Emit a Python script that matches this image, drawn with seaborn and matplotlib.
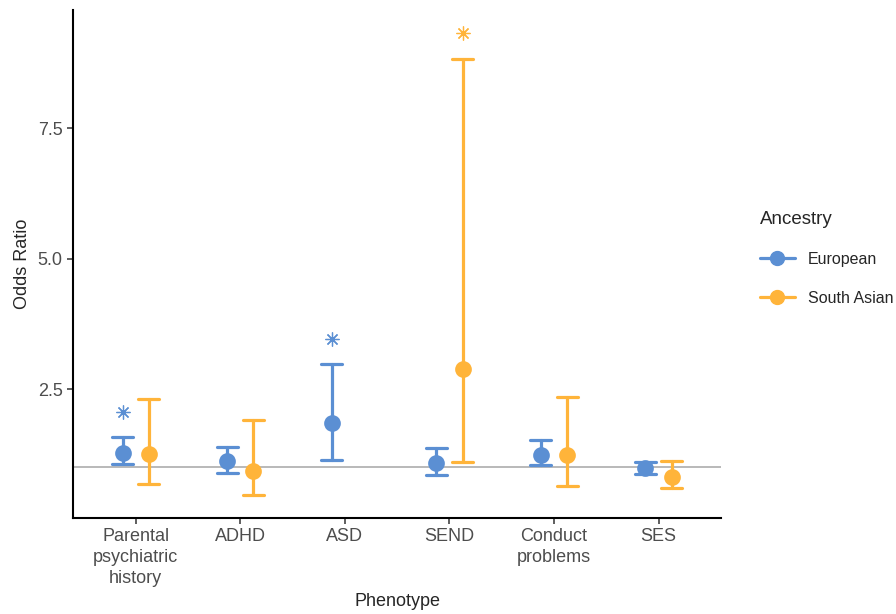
import numpy as np
import pandas as pd
import matplotlib
matplotlib.use('Agg')
from matplotlib import pyplot as plt
from matplotlib.lines import Line2D
import seaborn as sns

phenotypes = ['Parental\npsychiatric\nhistory', 'ADHD', 'ASD', 'SEND', 'Conduct\nproblems', 'SES']
ancestries = ['European', 'South Asian']

# odds ratio and 95% CI per phenotype (None = not estimated)
eur_or = [1.28, 1.12, 1.85, 1.08, 1.23, 0.98]
eur_lo = [1.06, 0.90, 1.15, 0.85, 1.04, 0.88]
eur_hi = [1.58, 1.40, 2.98, 1.37, 1.52, 1.10]
sa_or = [1.26, 0.94, None, 2.88, 1.23, 0.81]
sa_lo = [0.69, 0.48, None, 1.10, 0.65, 0.60]
sa_hi = [2.32, 1.90, None, 8.83, 2.35, 1.13]

# significance markers
star_pheno = ['Parental\npsychiatric\nhistory', 'ASD', 'SEND']
star_anc = ['European', 'European', 'South Asian']
star_y = [2.07, 3.46, 9.33]

palette = {'European': '#5B8FD3', 'South Asian': '#FFB43A'}

rows = []
for anc, o, l, h in [('European', eur_or, eur_lo, eur_hi), ('South Asian', sa_or, sa_lo, sa_hi)]:
    for p, a, b, c in zip(phenotypes, o, l, h):
        if a is None:
            continue
        for v in (b, a, c):
            rows.append({'Phenotype': p, 'Ancestry': anc, 'value': v})
df = pd.DataFrame(rows)

sns.set_style('white')
plt.rcParams['font.family'] = ['Liberation Sans', 'DejaVu Sans']

fig = plt.figure(figsize=(8.96, 6.14), dpi=100)
ax = fig.add_axes([0.0815, 0.1564, 0.7235, 0.8273])

ax.axhline(1, color='#A6A6A6', lw=1.1, zorder=0)

sns.pointplot(data=df, x='Phenotype', y='value', hue='Ancestry', order=phenotypes,
              hue_order=ancestries, palette=palette, estimator='median',
              errorbar=lambda v: (np.min(v), np.max(v)), dodge=0.25, capsize=0.2,
              linestyle='none', markers='o', markersize=10, err_kws={'linewidth': 2.3},
              legend=False, ax=ax)

offs = {'European': -0.125, 'South Asian': 0.125}
sx = [phenotypes.index(p) + offs[a] for p, a in zip(star_pheno, star_anc)]
for x, y, a in zip(sx, star_y, star_anc):
    ax.plot(x, y, marker=(8, 2, 0), markersize=10, color=palette[a], mew=0.9, linestyle='none')

ax.set_xlim(-0.6, 5.6)
ax.set_ylim(0.03, 9.77)
ax.set_yticks([2.5, 5.0, 7.5])
ax.set_yticklabels(['2.5', '5.0', '7.5'])
ax.set_xticks(range(len(phenotypes)))
ax.set_xticklabels(phenotypes, linespacing=1.3)
ax.set_xlabel('Phenotype', fontsize=13, labelpad=4)
ax.set_ylabel('Odds Ratio', fontsize=13, labelpad=5)
ax.tick_params(axis='both', labelsize=13, colors='#4D4D4D', length=4, width=1.1,
               direction='out', bottom=True, left=True)
ax.tick_params(axis='both', color='#333333')
for s in ['top', 'right']:
    ax.spines[s].set_visible(False)
for s in ['left', 'bottom']:
    ax.spines[s].set_color('black')
    ax.spines[s].set_linewidth(1.5)

handles = [Line2D([], [], color=palette[a], lw=2.3, marker='o', markersize=10) for a in ancestries]
leg = fig.legend(handles, ancestries, loc='upper left', bbox_to_anchor=(0.832, 0.68),
                 frameon=False, title='Ancestry', fontsize=11.5, title_fontsize=13.5,
                 labelspacing=1.5, handlelength=2.2, alignment='left')

fig.savefig('out.png', dpi=100)
